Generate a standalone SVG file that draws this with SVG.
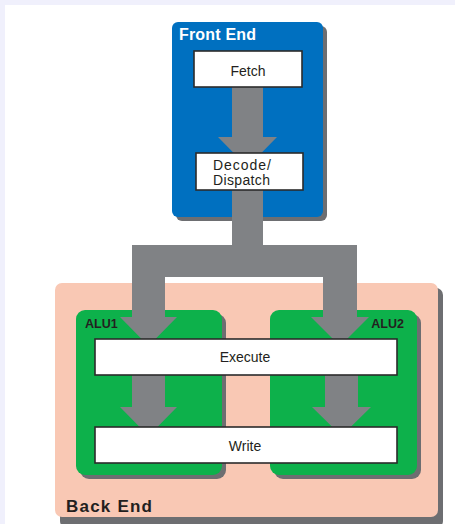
<svg xmlns="http://www.w3.org/2000/svg" width="455" height="524" viewBox="0 0 455 524">
<style>
.shadow{fill:#6d6e71}
.box{fill:#ffffff;stroke:#2b2b2b;stroke-width:1.6}
.txt{font-family:"Liberation Sans",Arial,sans-serif;font-size:14px;fill:#231f20}
.title{font-family:"Liberation Sans",Arial,sans-serif;font-weight:bold}
.pipe{fill:#808285}
</style>
<rect x="0" y="0" width="455" height="524" fill="#f0f0fc"/>
<rect x="5" y="5" width="450" height="519" fill="#ffffff"/>

<g id="front-end">
  <rect class="shadow" x="176" y="26" width="151" height="195" rx="6"/>
  <rect x="172" y="22" width="151" height="195" rx="6" fill="#0070c0"/>
  <text class="title" x="179" y="40" font-size="16" fill="#ffffff" textLength="77">Front End</text>
</g>

<g id="back-end">
  <rect class="shadow" x="60" y="288" width="383" height="240" rx="7"/>
  <rect x="55" y="283" width="383" height="234" rx="7" fill="#f9c8b4"/>
  <text class="title" x="66" y="512" font-size="17" fill="#231f20" textLength="86">Back End</text>
</g>

<g id="alu1">
  <rect class="shadow" x="80" y="314" width="146" height="165" rx="9"/>
  <rect x="76" y="310" width="146" height="165" rx="9" fill="#0db14b"/>
  <text class="title" x="85" y="328" font-size="12.5" fill="#231f20">ALU1</text>
</g>

<g id="alu2">
  <rect class="shadow" x="274" y="314" width="147" height="165" rx="9"/>
  <rect x="270" y="310" width="147" height="165" rx="9" fill="#0db14b"/>
  <text class="title" x="404" y="328" font-size="12.5" fill="#231f20" text-anchor="end">ALU2</text>
</g>

<g id="connectors">
  <polygon class="pipe" points="232,87 263,87 263,137 277,137 247.5,167 218,137 232,137"/>
  <polygon class="pipe" points="232,190 263,190 263,245 357,245 357,317 369,317 340,346 311,317 323,317 323,277 165,277 165,317 177,317 148.5,346 120,317 132,317 132,245 232,245"/>
  <polygon class="pipe" points="132,375 165,375 165,407 177,407 148.5,436 120,407 132,407"/>
  <polygon class="pipe" points="325,375 358,375 358,407 371,407 341.5,436 312,407 325,407"/>
</g>

<g id="fetch">
  <rect class="box" x="194" y="51" width="108" height="36"/>
  <text class="txt" x="248" y="76" text-anchor="middle">Fetch</text>
</g>

<g id="decode">
  <rect class="box" x="196" y="153" width="107" height="37"/>
  <text class="txt" x="213" y="170" font-size="13" textLength="58">Decode/</text>
  <text class="txt" x="213" y="185" font-size="13" textLength="57">Dispatch</text>
</g>

<g id="execute">
  <rect class="box" x="95" y="339" width="302" height="36"/>
  <text class="txt" x="245" y="362" text-anchor="middle">Execute</text>
</g>

<g id="write">
  <rect class="box" x="95" y="427" width="302" height="36"/>
  <text class="txt" x="245" y="451" text-anchor="middle">Write</text>
</g>
</svg>
